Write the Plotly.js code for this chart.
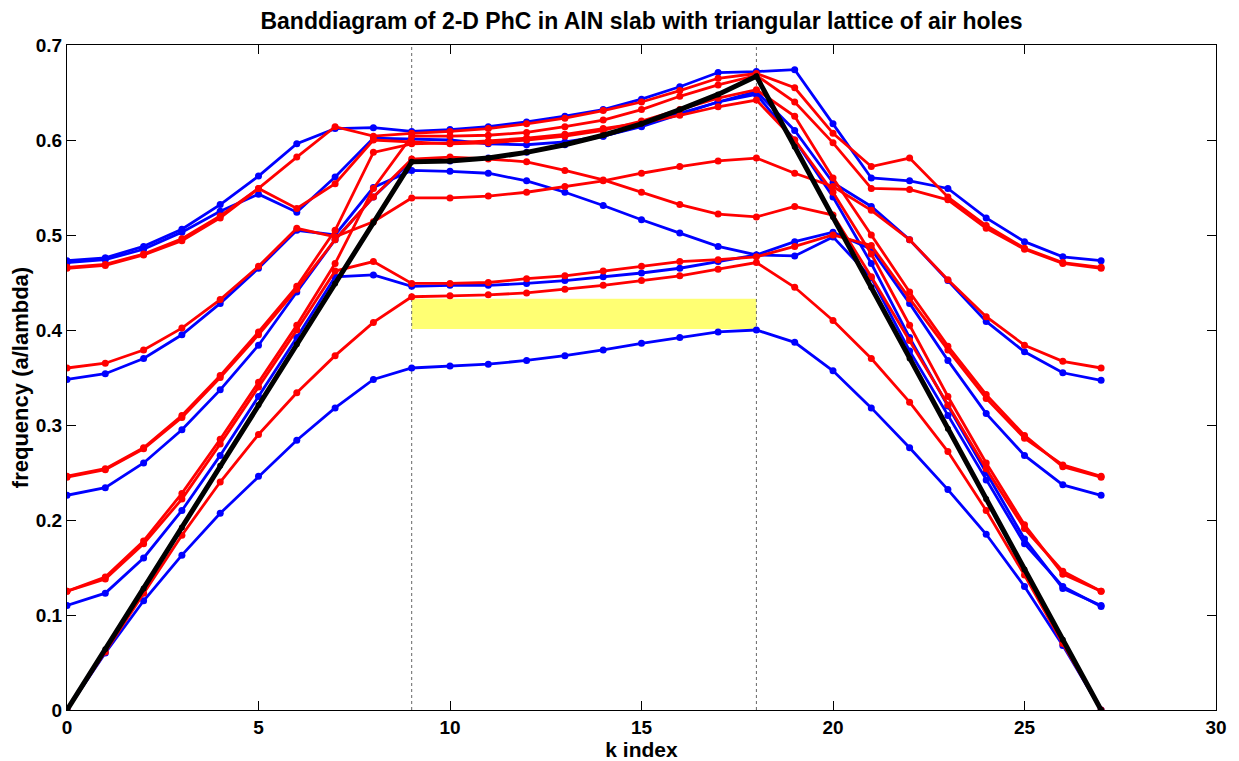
<!DOCTYPE html>
<html>
<head>
<meta charset="utf-8">
<script src="https://cdn.plot.ly/plotly-3.0.1.min.js"></script>
<style>html,body{margin:0;padding:0;background:#fff;}#chart{width:1239px;height:761px;}</style>
</head>
<body>
<div id="chart"></div>
<script>
// k index 0..27 (Gamma -> M -> K -> Gamma)
const kIndex = [0,1,2,3,4,5,6,7,8,9,10,11,12,13,14,15,16,17,18,19,20,21,22,23,24,25,26,27];

// Blue bands
const blue1 = [0,0.060,0.115,0.163,0.207,0.246,0.284,0.318,0.348,0.360, 0.362,0.364,0.368,0.373,0.379,0.386,0.392,0.398,0.400, 0.387,0.357,0.318,0.276,0.232,0.185,0.130,0.068,0];
const blue2 = [0.110,0.123,0.160,0.210,0.268,0.330,0.392,0.456,0.458,0.446, 0.447,0.447,0.449,0.452,0.456,0.460,0.465,0.472,0.479, 0.493,0.503,0.485,0.428,0.368,0.312,0.268,0.237,0.226];
const blue3 = [0.226,0.234,0.260,0.295,0.337,0.384,0.440,0.495,0.540,0.578, 0.578,0.581,0.587,0.595,0.604,0.615,0.628,0.640,0.648, 0.600,0.540,0.470,0.392,0.320,0.250,0.180,0.128,0.110];
const blue4 = [0.348,0.354,0.370,0.395,0.428,0.465,0.505,0.500,0.550,0.568, 0.567,0.565,0.557,0.545,0.531,0.516,0.502,0.488,0.479, 0.478,0.498,0.455,0.378,0.310,0.242,0.175,0.130,0.109];
const blue5 = [0.471,0.474,0.485,0.503,0.525,0.543,0.524,0.561,0.602,0.601, 0.600,0.596,0.595,0.598,0.604,0.614,0.627,0.640,0.651, 0.610,0.555,0.530,0.495,0.452,0.409,0.377,0.355,0.347];
const blue6 = [0.473,0.476,0.488,0.506,0.532,0.562,0.596,0.612,0.613,0.609, 0.611,0.614,0.619,0.625,0.632,0.643,0.656,0.671,0.672, 0.674,0.617,0.560,0.557,0.549,0.518,0.493,0.477,0.473];

// Red bands
const red0 = [0,0.061,0.123,0.184,0.240,0.290,0.334,0.373,0.408,0.435, 0.436,0.437,0.439,0.443,0.447,0.452,0.457,0.464,0.471, 0.445,0.410,0.370,0.324,0.272,0.210,0.142,0.070,0];
const red1 = [0.125,0.138,0.175,0.222,0.280,0.340,0.400,0.462,0.472,0.449, 0.449,0.450,0.454,0.457,0.462,0.467,0.472,0.474,0.477, 0.488,0.500,0.489,0.433,0.379,0.328,0.286,0.258,0.246];
const red2 = [0.125,0.140,0.178,0.228,0.285,0.345,0.405,0.470,0.549,0.604, 0.604,0.605,0.608,0.614,0.621,0.632,0.646,0.658,0.668, 0.640,0.597,0.549,0.548,0.537,0.507,0.485,0.470,0.465];
const red3 = [0.245,0.253,0.275,0.308,0.350,0.395,0.443,0.495,0.540,0.580, 0.582,0.580,0.577,0.568,0.558,0.545,0.532,0.522,0.519, 0.530,0.521,0.456,0.389,0.321,0.254,0.191,0.146,0.125];
const red4 = [0.360,0.365,0.379,0.402,0.432,0.467,0.507,0.498,0.514,0.539, 0.539,0.541,0.545,0.551,0.557,0.565,0.572,0.578,0.581, 0.565,0.551,0.526,0.495,0.453,0.414,0.384,0.367,0.360];
const red5 = [0.246,0.254,0.276,0.310,0.352,0.398,0.446,0.505,0.587,0.596, 0.597,0.599,0.602,0.606,0.612,0.618,0.626,0.635,0.642, 0.600,0.545,0.480,0.405,0.330,0.260,0.195,0.143,0.125];
const red6 = [0.465,0.468,0.479,0.494,0.518,0.549,0.528,0.554,0.600,0.598, 0.596,0.597,0.600,0.604,0.610,0.620,0.632,0.644,0.653, 0.625,0.560,0.500,0.440,0.383,0.332,0.289,0.256,0.245];
const red7 = [0.466,0.469,0.480,0.496,0.520,0.549,0.582,0.614,0.604,0.607, 0.609,0.612,0.617,0.623,0.631,0.640,0.652,0.665,0.670, 0.655,0.607,0.572,0.581,0.540,0.510,0.486,0.471,0.466];

// Light line
const lightLine = [0,0.064,0.128,0.192,0.257,0.321,0.385,0.449,0.513,0.577, 0.578,0.581,0.587,0.595,0.605,0.617,0.632,0.648,0.667, 0.593,0.519,0.445,0.370,0.296,0.222,0.148,0.074,0];

// Band gap and symmetry points
const gapK = [9, 18];
const gapFreq = [0.401, 0.433];
const symmetryK = [9, 18];

// Tick labels
const xTickVals = [0,5,10,15,20,25,30];
const xTickText = ['0','5','10','15','20','25','30'];
const yTickVals = [0,0.1,0.2,0.3,0.4,0.5,0.6,0.7];
const yTickText = ['0','0.1','0.2','0.3','0.4','0.5','0.6','0.7'];

const blueBands = [blue1, blue2, blue3, blue4, blue5, blue6];
const redBands = [red0, red1, red2, red3, red4, red5, red6, red7];

const traces = [];
blueBands.forEach(b => traces.push({
  x: kIndex, y: b, type: 'scatter', mode: 'lines+markers',
  line: {color: '#0000ff', width: 2.8}, marker: {color: '#0000ff', size: 7, symbol: 'circle'},
  hoverinfo: 'x+y', showlegend: false
}));
redBands.forEach(b => traces.push({
  x: kIndex, y: b, type: 'scatter', mode: 'lines+markers',
  line: {color: '#ff0000', width: 2.8}, marker: {color: '#ff0000', size: 7, symbol: 'circle'},
  hoverinfo: 'x+y', showlegend: false
}));
traces.push({
  x: kIndex, y: lightLine, type: 'scatter', mode: 'lines+markers',
  line: {color: '#000000', width: 5}, marker: {color: '#000000', size: 6},
  hoverinfo: 'x+y', showlegend: false
});

const shapes = [];
shapes.push({type: 'rect', xref: 'x', yref: 'y', x0: gapK[0], x1: gapK[1], y0: gapFreq[0], y1: gapFreq[1],
  fillcolor: '#ffff73', line: {width: 0}, layer: 'below'});
symmetryK.forEach(k => shapes.push({type: 'line', xref: 'x', yref: 'y', x0: k, x1: k, y0: 0, y1: 0.7,
  line: {color: '#666666', width: 1, dash: 'dot'}, layer: 'below'}));

const fontFam = 'Liberation Sans, Arial, sans-serif';
const bold = s => '<b>' + s + '</b>';
const layout = {
  width: 1239, height: 761,
  margin: {l: 67, r: 23, t: 45, b: 51},
  paper_bgcolor: '#ffffff', plot_bgcolor: '#ffffff',
  title: {text: bold('Banddiagram of 2-D PhC in AlN slab with triangular lattice of air holes'),
    font: {family: fontFam, size: 23, color: '#000'}, x: 0.5, xref: 'paper', xanchor: 'center', y: 0.973, yanchor: 'middle', yref: 'container'},
  xaxis: {range: [0, 30], tickmode: 'array', tickvals: xTickVals, ticktext: xTickText.map(bold),
    ticks: 'inside', ticklen: 9, tickcolor: '#000', tickwidth: 1, showline: true, linecolor: '#000', linewidth: 1, mirror: 'ticks',
    showgrid: false, zeroline: false, automargin: false, tickfont: {family: fontFam, size: 19, color: '#000'},
    title: {text: bold('k index'), font: {family: fontFam, size: 21, color: '#000'}, standoff: 2}},
  yaxis: {range: [0, 0.7], tickmode: 'array', tickvals: yTickVals, ticktext: yTickText.map(bold),
    ticks: 'inside', ticklen: 9, tickcolor: '#000', tickwidth: 1, showline: true, linecolor: '#000', linewidth: 1, mirror: 'ticks',
    showgrid: false, zeroline: false, automargin: false, tickfont: {family: fontFam, size: 19, color: '#000'},
    title: {text: bold('frequency (a/lambda)'), font: {family: fontFam, size: 22, color: '#000'}, standoff: 1}},
  shapes: shapes,
  showlegend: false
};

Plotly.newPlot('chart', traces, layout, {displayModeBar: false, responsive: false});
</script>
</body>
</html>
